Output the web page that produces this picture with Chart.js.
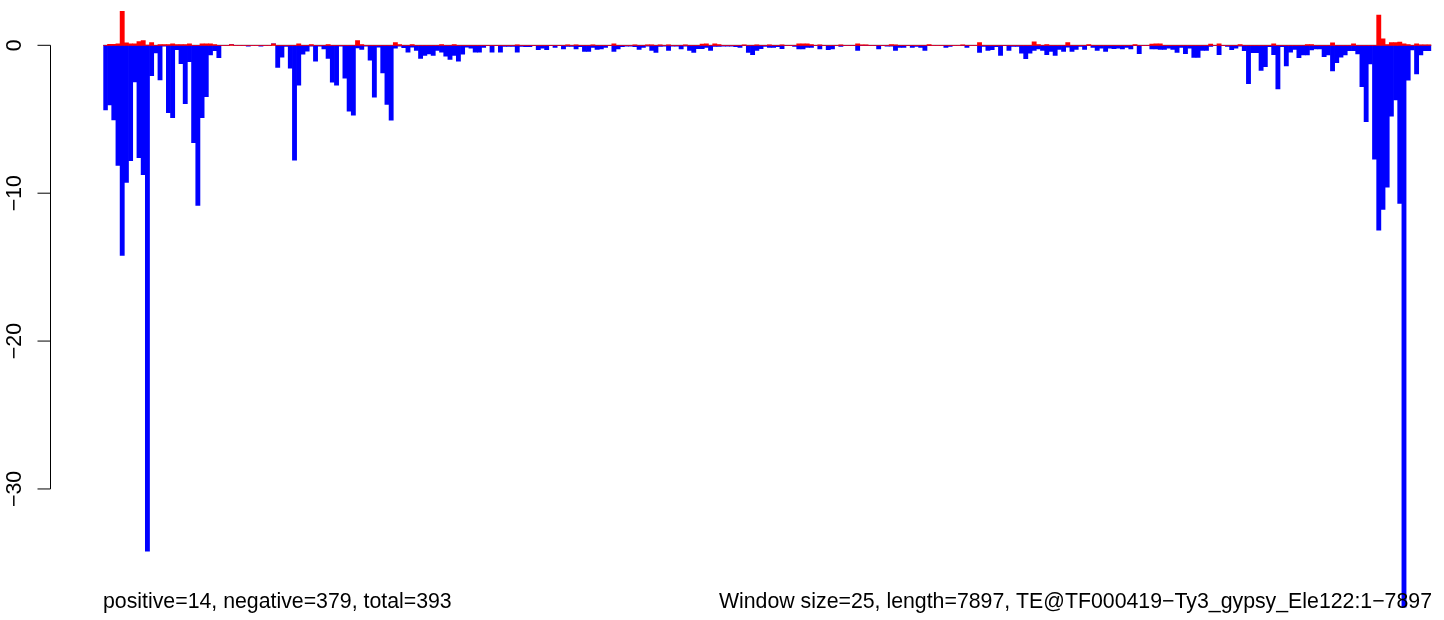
<!DOCTYPE html>
<html>
<head>
<meta charset="utf-8">
<script src="https://cdn.jsdelivr.net/npm/chart.js@4.4.1/dist/chart.umd.min.js"></script>
<style>
  html, body { margin: 0; padding: 0; background: #fff; }
  #wrap { width: 1444px; height: 620px; position: relative; }
</style>
</head>
<body>
<div id="wrap"><canvas id="c"></canvas></div>
<script>
// windows of 25 bp along the TE, one bar each
const windowSize = 25;
const teLength = 7897;

// positive (red) signal per window
const positive = [
  0, 0.07, 0.07, 0.1, 2.32, 0.16, 0.1, 0.1, 0.25, 0.32, 0.02, 0.18, 0, 0.05, 0.05, 0.05, 0.1, 0.05, 0.05, 0.05,
  0.1, 0, 0, 0.1, 0.1, 0.1, 0.05, 0, 0, 0, 0.05, 0, 0, 0, 0, 0, 0, 0, 0, 0,
  0.1, 0, 0, 0, 0, 0, 0.1, 0, 0, 0.05, 0, 0, 0, 0.05, 0, 0, 0, 0, 0, 0,
  0.32, 0.05, 0, 0, 0, 0, 0, 0, 0, 0.18, 0.05, 0, 0, 0.05, 0, 0, 0, 0, 0, 0,
  0.05, 0, 0, 0.05, 0, 0, 0, 0, 0, 0, 0, 0, 0, 0, 0, 0, 0, 0, 0.03, 0,
  0, 0, 0, 0, 0, 0, 0, 0, 0, 0, 0.03, 0, 0.03, 0, 0, 0, 0.03, 0, 0, 0,
  0, 0.1, 0, 0, 0, 0, 0.03, 0, 0, 0.03, 0.03, 0, 0.03, 0, 0.03, 0, 0, 0, 0.03, 0,
  0, 0, 0.08, 0.1, 0, 0.1, 0.05, 0, 0, 0, 0, 0, 0.03, 0, 0, 0.03, 0, 0, 0.03, 0,
  0, 0.03, 0, 0, 0, 0.1, 0.1, 0.1, 0.05, 0, 0.03, 0, 0, 0, 0, 0.03, 0, 0, 0, 0.1,
  0.03, 0.03, 0, 0, 0, 0, 0, 0.05, 0.03, 0, 0, 0, 0, 0, 0, 0, 0.05, 0, 0, 0,
  0, 0, 0, 0, 0.03, 0, 0, 0, 0.19, 0, 0, 0, 0, 0, 0, 0, 0, 0, 0, 0,
  0, 0.24, 0.05, 0, 0.05, 0, 0, 0, 0, 0.19, 0, 0, 0, 0, 0.05, 0, 0, 0, 0, 0,
  0, 0, 0, 0, 0, 0.05, 0, 0, 0, 0.08, 0.1, 0.1, 0, 0, 0, 0, 0, 0, 0, 0,
  0, 0, 0, 0.08, 0, 0.1, 0, 0, 0, 0, 0.05, 0, 0, 0, 0, 0, 0, 0, 0.1, 0,
  0, 0, 0, 0, 0, 0, 0.05, 0.05, 0, 0, 0, 0, 0.16, 0, 0, 0, 0, 0.1, 0, 0,
  0, 0, 0, 2.05, 0.43, 0.05, 0.18, 0.18, 0.22, 0.1, 0.05, 0, 0.1, 0.03, 0.03, 0.03
];

// negative (blue) signal per window
const negative = [
  -4.37, -4.03, -5.05, -8.13, -14.2, -9.28, -7.8, -2.48, -7.6, -8.74, -34.2, -2.05, -0.52, -2.34, -0.05, -4.55, -4.89, -0.3, -1.24, -3.94,
  -1.1, -6.58, -10.83, -4.89, -3.47, -0.65, -0.36, -0.83, 0, 0, 0, 0, 0, 0, -0.05, 0, 0, -0.05, 0, 0,
  0, -1.49, -0.81, -0.07, -1.55, -7.77, -2.7, -0.6, -0.4, -0.05, -1.08, -0.05, -0.25, -0.88, -2.5, -2.7, -0.05, -2.23, -4.46, -4.73,
  -0.18, -0.27, -0.05, -1.01, -3.5, -0.12, -1.87, -3.99, -5.07, -0.2, -0.05, -0.16, -0.47, -0.12, -0.34, -0.88, -0.68, -0.59, -0.68, -0.34,
  -0.47, -0.74, -0.95, -0.68, -1.08, -0.6, -0.12, -0.2, -0.46, -0.46, -0.15, -0.03, -0.46, -0.03, -0.46, -0.08, -0.08, -0.08, -0.46, -0.08,
  -0.1, -0.1, -0.03, -0.3, -0.2, -0.3, -0.03, -0.15, -0.03, -0.24, -0.08, -0.08, -0.24, -0.1, -0.42, -0.42, -0.15, -0.28, -0.24, -0.15,
  -0.03, -0.42, -0.24, -0.1, -0.06, -0.06, -0.1, -0.28, -0.15, -0.06, -0.35, -0.48, -0.08, -0.05, -0.35, -0.05, -0.05, -0.24, -0.05, -0.35,
  -0.48, -0.22, -0.22, -0.15, -0.35, -0.08, -0.08, -0.05, -0.05, -0.05, -0.1, -0.15, -0.03, -0.48, -0.64, -0.35, -0.22, -0.08, -0.15, -0.15,
  -0.1, -0.22, -0.03, -0.03, -0.08, -0.24, -0.24, -0.15, -0.15, -0.03, -0.24, -0.03, -0.3, -0.24, -0.03, -0.08, -0.03, -0.03, -0.03, -0.35,
  -0.03, -0.03, -0.03, -0.03, -0.24, -0.03, -0.06, -0.06, -0.35, -0.15, -0.15, -0.03, -0.15, -0.08, -0.15, -0.35, -0.03, 0, 0, 0,
  -0.15, -0.08, 0, 0, -0.03, -0.15, 0, 0, -0.48, -0.08, -0.35, -0.3, -0.1, -0.69, -0.03, -0.35, -0.08, -0.08, -0.53, -0.91,
  -0.53, -0.35, -0.24, -0.35, -0.64, -0.42, -0.69, -0.28, -0.42, -0.12, -0.42, -0.28, -0.08, -0.28, -0.03, -0.15, -0.35, -0.2, -0.42, -0.2,
  -0.22, -0.2, -0.24, -0.15, -0.24, -0.03, -0.57, -0.03, -0.03, -0.24, -0.24, -0.28, -0.28, -0.2, -0.28, -0.48, -0.15, -0.57, -0.2, -0.82,
  -0.82, -0.35, -0.35, -0.08, -0.03, -0.64, -0.03, -0.08, -0.3, -0.2, -0.05, -0.36, -2.6, -0.5, -0.5, -1.7, -1.44, -0.1, -0.63, -2.95,
  -0.1, -1.4, -0.47, -0.27, -0.83, -0.65, -0.65, -0.32, -0.25, -0.25, -0.77, -0.65, -1.73, -1.17, -0.81, -0.65, -0.36, -0.36, -0.59, -2.8,
  -5.16, -1.26, -7.7, -12.5, -11.1, -9.6, -4.8, -3.7, -10.7, -38.0, -2.35, -0.32, -1.94, -0.65, -0.36, -0.36
];

// y axis ticks (R style, rotated labels)
const yTicks = [0, -10, -20, -30];
const yTickLabels = ['0', '−10', '−20', '−30'];

const footLeft = 'positive=14, negative=379, total=393';
const footRight = 'Window size=25, length=7897, TE@TF000419−Ty3_gypsy_Ele122:1−7897';

// category labels = window ranges
const windows = negative.map((_, i) => (i * windowSize + 1) + '-' + Math.min((i + 1) * windowSize, teLength));

const FONT = '21.3px "Liberation Sans", Arial, Helvetica, sans-serif';

// zero line, left axis and the two bottom notes, drawn like base R graphics
const rAxis = {
  id: 'rAxis',
  beforeDatasetsDraw(chart) {
    const { ctx, chartArea: a, scales: { y } } = chart;
    const y0 = y.getPixelForValue(0);
    ctx.save();
    ctx.strokeStyle = '#bebebe';
    ctx.lineWidth = 1.5;
    ctx.beginPath();
    ctx.moveTo(a.left, y0);
    ctx.lineTo(a.right, y0);
    ctx.stroke();
    ctx.restore();
  },
  afterDraw(chart) {
    const { ctx, scales: { y } } = chart;
    const axisX = 50.5, tickLen = 13;
    ctx.save();
    ctx.strokeStyle = '#000';
    ctx.lineWidth = 1;
    ctx.beginPath();
    ctx.moveTo(axisX, y.getPixelForValue(yTicks[0]));
    ctx.lineTo(axisX, y.getPixelForValue(yTicks[yTicks.length - 1]));
    yTicks.forEach(v => {
      const py = y.getPixelForValue(v);
      ctx.moveTo(axisX, py);
      ctx.lineTo(axisX - tickLen, py);
    });
    ctx.stroke();

    ctx.fillStyle = '#000';
    ctx.font = FONT;
    ctx.textAlign = 'center';
    ctx.textBaseline = 'alphabetic';
    yTicks.forEach((v, i) => {
      ctx.save();
      ctx.translate(21, y.getPixelForValue(v));
      ctx.rotate(-Math.PI / 2);
      ctx.fillText(yTickLabels[i], 0, 0);
      ctx.restore();
    });

    ctx.textAlign = 'left';
    ctx.fillText(footLeft, 103, 608);
    ctx.textAlign = 'right';
    ctx.fillText(footRight, 1432, 608);
    ctx.restore();
  }
};

new Chart(document.getElementById('c'), {
  type: 'bar',
  data: {
    labels: windows,
    datasets: [
      { label: 'positive', data: positive, backgroundColor: '#ff0000', stack: 's' },
      { label: 'negative', data: negative, backgroundColor: '#0000ff', stack: 's' }
    ]
  },
  options: {
    responsive: true,
    maintainAspectRatio: false,
    animation: false,
    layout: { padding: { left: 103.3, right: 12.7, top: 11, bottom: 12 } },
    datasets: { bar: { barPercentage: 1, categoryPercentage: 1, borderWidth: 0 } },
    plugins: { legend: { display: false }, tooltip: { enabled: false } },
    scales: {
      x: { display: false, stacked: true },
      y: { display: false, stacked: true, min: -38.05, max: 2.32 }
    }
  },
  plugins: [rAxis]
});
</script>
</body>
</html>
